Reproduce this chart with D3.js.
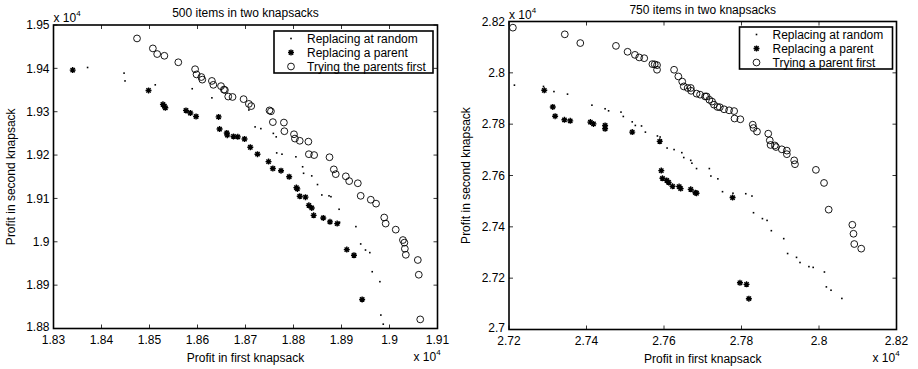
<!DOCTYPE html>
<html>
<head>
<meta charset="utf-8">
<script src="https://cdn.jsdelivr.net/npm/d3@7"></script>
<style>
  body { margin: 0; background: #fff; }
  svg { display: block; font-family: "Liberation Sans", Arial, Helvetica, sans-serif; }
</style>
</head>
<body>
<svg id="chart" width="918" height="369"></svg>
<script>
// values are in units of 10^4
const leftTitle = "500 items in two knapsacks";
const rightTitle = "750 items in two knapsacks";
const leftLegend = ["Replacing at random", "Replacing a parent", "Trying the parents first"];
const rightLegend = ["Replacing at random", "Replacing a parent", "Trying a parent first"];

const leftXTicks = [1.83, 1.84, 1.85, 1.86, 1.87, 1.88, 1.89, 1.9, 1.91];
const leftYTicks = [1.88, 1.89, 1.9, 1.91, 1.92, 1.93, 1.94, 1.95];
const rightXTicks = [2.72, 2.74, 2.76, 2.78, 2.8, 2.82];
const rightYTicks = [2.7, 2.72, 2.74, 2.76, 2.78, 2.8, 2.82];

const leftRandom = [
  [1.8371, 1.9402], [1.8447, 1.9389], [1.8449, 1.9371], [1.8512, 1.9362], [1.8589, 1.9353],
  [1.8630, 1.9332], [1.8707, 1.9304], [1.8720, 1.9265], [1.8732, 1.9261], [1.8758, 1.9250],
  [1.8764, 1.9242], [1.8765, 1.9205], [1.8776, 1.9202], [1.8805, 1.9196], [1.8819, 1.9173],
  [1.8821, 1.9158], [1.8838, 1.9152], [1.8850, 1.9132], [1.8859, 1.9108], [1.8874, 1.9106],
  [1.8878, 1.9104], [1.8895, 1.9075], [1.8896, 1.9045], [1.8930, 1.9035], [1.8940, 1.8995],
  [1.8950, 1.8981], [1.8959, 1.8975], [1.8964, 1.8931], [1.8980, 1.8908], [1.8982, 1.8831],
  [1.8987, 1.8810]
];
const leftParent = [
  [1.8340, 1.9396], [1.8498, 1.9349], [1.8528, 1.9317], [1.8531, 1.9313], [1.8533, 1.9309],
  [1.8576, 1.9303], [1.8585, 1.9297], [1.8597, 1.9289], [1.8644, 1.9288], [1.8646, 1.9260],
  [1.8661, 1.9251], [1.8662, 1.9246], [1.8675, 1.9243], [1.8684, 1.9242], [1.8698, 1.9237],
  [1.8710, 1.9218], [1.8725, 1.9202], [1.8748, 1.9185], [1.8757, 1.9169], [1.8774, 1.9164],
  [1.8791, 1.9150], [1.8806, 1.9125], [1.8808, 1.9122], [1.8813, 1.9105], [1.8825, 1.9103],
  [1.8832, 1.9084], [1.8838, 1.9078], [1.8842, 1.9061], [1.8862, 1.9055], [1.8876, 1.9046],
  [1.8891, 1.9042], [1.8911, 1.8982], [1.8926, 1.8969], [1.8943, 1.8867]
];
const leftTrying = [
  [1.8474, 1.9469], [1.8507, 1.9446], [1.8516, 1.9433], [1.8531, 1.9429], [1.8560, 1.9414],
  [1.8595, 1.9398], [1.8598, 1.9386], [1.8608, 1.9380], [1.8610, 1.9374], [1.8630, 1.9371],
  [1.8633, 1.9362], [1.8649, 1.9359], [1.8655, 1.9351], [1.8657, 1.9350], [1.8664, 1.9335],
  [1.8673, 1.9334], [1.8696, 1.9329], [1.8707, 1.9318], [1.8712, 1.9313], [1.8750, 1.9303],
  [1.8753, 1.9301], [1.8757, 1.9276], [1.8780, 1.9275], [1.8781, 1.9255], [1.8801, 1.9248],
  [1.8803, 1.9238], [1.8813, 1.9233], [1.8831, 1.9231], [1.8832, 1.9202], [1.8843, 1.9200],
  [1.8875, 1.9195], [1.8884, 1.9167], [1.8888, 1.9156], [1.8909, 1.9151], [1.8916, 1.9140],
  [1.8934, 1.9135], [1.8940, 1.9106], [1.8961, 1.9097], [1.8972, 1.9088], [1.8989, 1.9056],
  [1.8992, 1.9042], [1.9013, 1.9028], [1.9028, 1.9004], [1.9031, 1.8998], [1.9032, 1.8984],
  [1.9034, 1.8970], [1.9059, 1.8958], [1.9061, 1.8924], [1.9064, 1.8821]
];

const rightRandom = [
  [2.7214, 2.7952], [2.7289, 2.7947], [2.7316, 2.7927], [2.7351, 2.7917], [2.7414, 2.7874],
  [2.7448, 2.7860], [2.7457, 2.7852], [2.7489, 2.7847], [2.7495, 2.7830], [2.7518, 2.7809],
  [2.7526, 2.7795], [2.7542, 2.7793], [2.7552, 2.7769], [2.7583, 2.7754], [2.7590, 2.7750],
  [2.7593, 2.7738], [2.7608, 2.7707], [2.7626, 2.7701], [2.7646, 2.7689], [2.7651, 2.7670],
  [2.7669, 2.7659], [2.7672, 2.7648], [2.7684, 2.7627], [2.7717, 2.7627], [2.7721, 2.7598],
  [2.7739, 2.7587], [2.7751, 2.7537], [2.7778, 2.7531], [2.7811, 2.7529], [2.7827, 2.7520],
  [2.7831, 2.7455], [2.7854, 2.7432], [2.7866, 2.7425], [2.7877, 2.7385], [2.7909, 2.7354],
  [2.7919, 2.7296], [2.7942, 2.7281], [2.7951, 2.7261], [2.7974, 2.7245], [2.7985, 2.7242],
  [2.8014, 2.7224], [2.8019, 2.7166], [2.8031, 2.7153], [2.8059, 2.7121]
];
const rightParent = [
  [2.7291, 2.7932], [2.7313, 2.7867], [2.7319, 2.7831], [2.7343, 2.7817], [2.7358, 2.7813],
  [2.7410, 2.7808], [2.7418, 2.7801], [2.7448, 2.7795], [2.7448, 2.7782], [2.7518, 2.7769],
  [2.7589, 2.7733], [2.7593, 2.7619], [2.7596, 2.7589], [2.7607, 2.7581], [2.7612, 2.7573],
  [2.7622, 2.7558], [2.7639, 2.7557], [2.7643, 2.7549], [2.7669, 2.7546], [2.7681, 2.7533],
  [2.7684, 2.7531], [2.7777, 2.7514], [2.7796, 2.7182], [2.7813, 2.7176], [2.7819, 2.7120]
];
const rightTrying = [
  [2.7210, 2.8176], [2.7344, 2.8150], [2.7384, 2.8116], [2.7476, 2.8105], [2.7506, 2.8082],
  [2.7525, 2.8070], [2.7536, 2.8060], [2.7549, 2.8057], [2.7570, 2.8034], [2.7576, 2.8033],
  [2.7582, 2.8030], [2.7582, 2.8012], [2.7626, 2.8012], [2.7637, 2.7986], [2.7647, 2.7966],
  [2.7651, 2.7947], [2.7661, 2.7941], [2.7669, 2.7941], [2.7670, 2.7930], [2.7684, 2.7919],
  [2.7693, 2.7915], [2.7706, 2.7908], [2.7710, 2.7908], [2.7717, 2.7895], [2.7724, 2.7888],
  [2.7729, 2.7876], [2.7738, 2.7867], [2.7744, 2.7866], [2.7755, 2.7858], [2.7768, 2.7854],
  [2.7781, 2.7851], [2.7782, 2.7822], [2.7797, 2.7819], [2.7829, 2.7798], [2.7831, 2.7785],
  [2.7840, 2.7771], [2.7869, 2.7763], [2.7873, 2.7737], [2.7875, 2.7719], [2.7886, 2.7717],
  [2.7889, 2.7711], [2.7904, 2.7702], [2.7917, 2.7697], [2.7917, 2.7683], [2.7936, 2.7659],
  [2.7938, 2.7644], [2.7992, 2.7622], [2.8013, 2.7571], [2.8025, 2.7467], [2.8086, 2.7408],
  [2.8089, 2.7373], [2.8091, 2.7333], [2.8109, 2.7315]
];

const svg = d3.select("#chart");

// matlab style asterisk: + and x on top of each other
function starPath(r) {
  const d = r * 0.72;
  return `M${-r},0L${r},0M0,${-r}L0,${r}M${-d},${-d}L${d},${d}M${-d},${d}L${d},${-d}`;
}

function drawMarker(g, kind, x, y) {
  if (kind == "dot") {
    g.append("rect").attr("x", x - 0.8).attr("y", y - 0.8)
      .attr("width", 1.6).attr("height", 1.6).attr("fill", "#000");
  } else if (kind == "star") {
    g.append("path").attr("d", starPath(3))
      .attr("transform", `translate(${x},${y})`)
      .attr("stroke", "#000").attr("stroke-width", 1.4).attr("fill", "none");
  } else {
    g.append("circle").attr("cx", x).attr("cy", y).attr("r", 3.4)
      .attr("stroke", "#000").attr("stroke-width", 0.9).attr("fill", "none");
  }
}

function drawPanel(p) {
  const x = d3.scaleLinear().domain(d3.extent(p.xTicks)).range([p.left, p.right]);
  const y = d3.scaleLinear().domain(d3.extent(p.yTicks)).range([p.bottom, p.top]);
  const g = svg.append("g");
  const fmt = d => String(+d.toFixed(2));

  // inward ticks on all four sides, labels drawn with the scales
  const tl = 4;
  const ticks = g.append("g").attr("stroke", "#000").attr("stroke-width", 0.8);
  p.xTicks.forEach(v => {
    ticks.append("line").attr("x1", x(v)).attr("x2", x(v)).attr("y1", p.bottom).attr("y2", p.bottom - tl);
    ticks.append("line").attr("x1", x(v)).attr("x2", x(v)).attr("y1", p.top).attr("y2", p.top + tl);
  });
  p.yTicks.forEach(v => {
    ticks.append("line").attr("y1", y(v)).attr("y2", y(v)).attr("x1", p.left).attr("x2", p.left + tl);
    ticks.append("line").attr("y1", y(v)).attr("y2", y(v)).attr("x1", p.right).attr("x2", p.right - tl);
  });
  g.append("g").selectAll("text").data(p.xTicks).join("text")
    .attr("x", d => x(d)).attr("y", p.bottom + 15.5)
    .attr("text-anchor", "middle").attr("font-size", 12).text(fmt);
  // the lowest y label sits a bit higher so it clears the first x label
  g.append("g").selectAll("text").data(p.yTicks).join("text")
    .attr("x", p.left - 4).attr("y", (d, i) => y(d) + (i == 0 ? 2.5 : 4.2))
    .attr("text-anchor", "end").attr("font-size", 12).text(fmt);

  g.append("rect")
    .attr("x", p.left).attr("y", p.top)
    .attr("width", p.right - p.left).attr("height", p.bottom - p.top)
    .attr("fill", "none").attr("stroke", "#000").attr("stroke-width", 1.6);

  // points
  const pts = g.append("g");
  p.random.forEach(d => drawMarker(pts, "dot", x(d[0]), y(d[1])));
  p.parent.forEach(d => drawMarker(pts, "star", x(d[0]), y(d[1])));
  p.trying.forEach(d => drawMarker(pts, "circle", x(d[0]), y(d[1])));

  // title and axis labels
  const cx = (p.left + p.right) / 2;
  g.append("text").attr("x", cx).attr("y", p.top - 8).attr("text-anchor", "middle")
    .attr("font-size", 12).text(p.title);
  g.append("text").attr("x", cx).attr("y", p.bottom + 33).attr("text-anchor", "middle")
    .attr("font-size", 12).text("Profit in first knapsack");
  g.append("text")
    .attr("transform", `translate(${p.left - 39},${(p.top + p.bottom) / 2}) rotate(-90)`)
    .attr("text-anchor", "middle").attr("font-size", 12).text("Profit in second knapsack");

  // exponent labels
  const expo = (tx, ty) => {
    const t = g.append("text").attr("x", tx).attr("y", ty).attr("font-size", 12);
    t.append("tspan").text("x 10");
    t.append("tspan").attr("dy", -6).attr("font-size", 8).text("4");
  };
  expo(p.left, p.top - 3);
  expo(p.right - 24, p.bottom + 32);

  // legend
  const lg = g.append("g");
  lg.append("rect").attr("x", p.legX).attr("y", p.legY)
    .attr("width", p.legW).attr("height", 42)
    .attr("fill", "#fff").attr("stroke", "#000").attr("stroke-width", 1.6);
  ["dot", "star", "circle"].forEach((k, i) => {
    const ly = p.legY + 7.5 + i * 14;
    drawMarker(lg, k, p.legX + 17, ly);
    lg.append("text").attr("x", p.legX + 33).attr("y", ly + 4.3)
      .attr("font-size", 12).text(p.legend[i]);
  });
}

drawPanel({
  left: 53.5, right: 437.5, top: 25, bottom: 328.5,
  xTicks: leftXTicks, yTicks: leftYTicks,
  random: leftRandom, parent: leftParent, trying: leftTrying,
  title: leftTitle, legend: leftLegend,
  legX: 274, legY: 31, legW: 159
});

drawPanel({
  left: 509, right: 896.5, top: 21.5, bottom: 329.5,
  xTicks: rightXTicks, yTicks: rightYTicks,
  random: rightRandom, parent: rightParent, trying: rightTrying,
  title: rightTitle, legend: rightLegend,
  legX: 739.5, legY: 27, legW: 153
});
</script>
</body>
</html>
